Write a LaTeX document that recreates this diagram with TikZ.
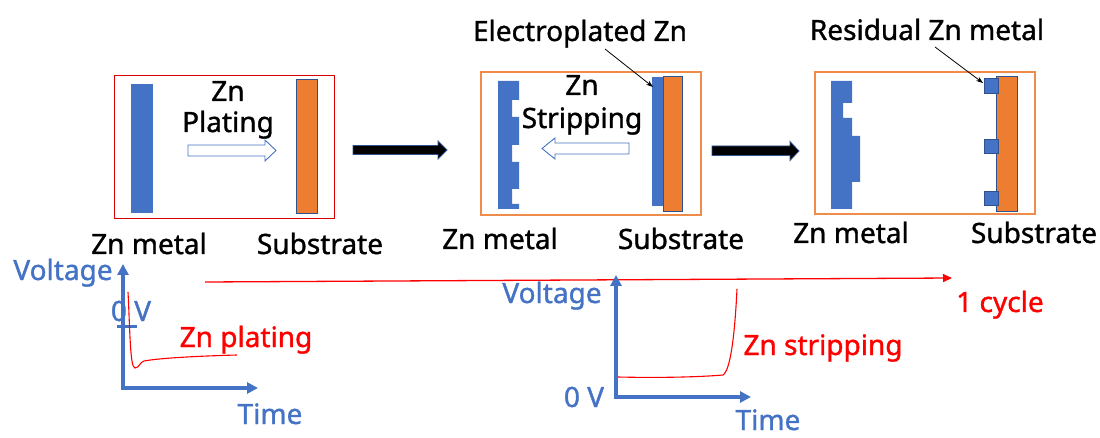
\documentclass[tikz,border=0pt]{standalone}
\usepackage{fontspec}
\setmainfont{Noto Sans}[FakeBold=1.2]
\usetikzlibrary{arrows.meta}
\definecolor{zblue}{HTML}{4472C4}
\definecolor{zorange}{HTML}{ED7D31}
\definecolor{zdark}{HTML}{2F528F}
\definecolor{zbox}{HTML}{F08C4A}
\definecolor{zred}{HTML}{FF0000}
\begin{document}
\begin{tikzpicture}[x=1pt,y=-1pt,
  txt/.style={font=\fontsize{28}{32}\selectfont, inner sep=0pt, anchor=base},
  bluetxt/.style={txt, text=zblue},
  redtxt/.style={txt, text=zred},
  zinc/.style={fill=zblue, draw=zblue, line width=0.6},
  subst/.style={fill=zorange, draw=zdark, line width=0.8},
  hollow/.style={fill=white, draw=zblue, line width=0.9},
  fat/.style={fill=black, draw=zdark, line width=0.8},
  axis/.style={draw=zblue, line width=3.5, {Triangle[length=11,width=11]}-{Triangle[length=11,width=11]}},
  curve/.style={draw=zred, line width=1.1},
  leader/.style={draw=black, line width=0.8, -{Stealth[length=7,width=5]}},
]
\useasboundingbox (0,0) rectangle (1100,438);

% ---------- panel 1 ----------
\draw[draw=zred!85!black, line width=1] (114,76) rectangle (334,219);
\fill[zinc] (131,84) rectangle (152,212);
\draw[subst] (296,79) rectangle (317,213);
\draw[hollow] (188,145) -- (265,145) -- (265,140) -- (276,150.5) -- (265,161) -- (265,156) -- (188,156) -- cycle;
\node[txt] (zn1) at (228,101) {Zn};
\node[txt] (plat) at (228,132) {Plating};
\node[txt] (zm1) at (149,254) {Zn metal};
\node[txt] (sb1) at (320,254) {Substrate};

% ---------- fat arrow 1 ----------
\draw[fat] (353,145.5) -- (438,145.5) -- (438,141) -- (447,150) -- (438,159) -- (438,154.5) -- (353,154.5) -- cycle;

% ---------- panel 2 ----------
\draw[draw=zbox, line width=1.2] (481,72) rectangle (701,215);
\fill[zblue] (498,81) -- (519,81) -- (519,100) -- (512,100) -- (512,117) -- (519,117) -- (519,145) -- (512,145) -- (512,162) -- (519,162) -- (519,189) -- (512,189) -- (512,204) -- (519,204) -- (519,209) -- (498,209) -- cycle;
\draw[zinc] (652,77) rectangle (663,205);
\draw[subst] (663,76) rectangle (682,211);
\draw[hollow] (629,143) -- (555,143) -- (555,138) -- (542,148.5) -- (555,159) -- (555,154) -- (629,154) -- cycle;
\node[txt] (zn2) at (582,95) {Zn};
\node[txt] (strip) at (582,128) {Stripping};
\node[txt] (elz) at (580,41) {Electroplated Zn};
\coordinate (elzs) at (605,49);
\coordinate (plated) at (653,87);
\draw[leader] (elzs) -- (plated);
\node[txt] (zm2) at (500,249) {Zn metal};
\node[txt] (sb2) at (681,249) {Substrate};

% ---------- fat arrow 2 ----------
\draw[fat] (712,146) -- (790,146) -- (790,141.5) -- (799,151) -- (790,160.5) -- (790,155.5) -- (712,155.5) -- cycle;

% ---------- panel 3 ----------
\draw[draw=zbox, line width=1.2] (815,72) rectangle (1035,214);
\fill[zblue] (831,81) -- (852,81) -- (852,103) -- (843,103) -- (843,118) -- (852,118) -- (852,136) -- (860,136) -- (860,182) -- (852,182) -- (852,209) -- (831,209) -- cycle;
\draw[subst] (996,76) rectangle (1017,211);
\draw[zinc, draw=zdark] (984,78) rectangle (998,93);
\draw[zinc, draw=zdark] (984,139) rectangle (998,153);
\draw[zinc, draw=zdark] (984,191) rectangle (998,205);
\node[txt] (res) at (927,40) {Residual Zn metal};
\coordinate (ress) at (935,47);
\coordinate (resid) at (983,83);
\draw[leader] (ress) -- (resid);
\node[txt] (zm3) at (851,243) {Zn metal};
\node[txt] (sb3) at (1034,243) {Substrate};

% ---------- cycle arrow ----------
\coordinate (cyc0) at (205,282);
\coordinate (cyc1) at (952,278);
\draw[draw=zred, line width=1.3, -{Triangle[length=9,width=8]}] (cyc0) -- (cyc1);
\node[redtxt] (cyc) at (1000,312) {1 cycle};

% ---------- graph 1 ----------
\coordinate (g1top) at (123,264);
\coordinate (g1o) at (123,388);
\coordinate (g1right) at (258,388);
\draw[axis] (g1top) -- (g1o) -- (g1right);
\node[bluetxt] (v1) at (63,280) {Voltage};
\node[bluetxt] (zv1) at (131,321) {0 V};
\draw[zblue, line width=3] (117,326) -- (137,326);
\draw[curve] (128,292) .. controls (130,330) and (130,368) .. (135,368)
  .. controls (139,368) and (140,362) .. (144,361)
  .. controls (160,358) and (200,356) .. (237,355);
\node[redtxt] (zp) at (246,347) {Zn plating};
\node[bluetxt] (t1) at (270,424) {Time};

% ---------- graph 2 ----------
\coordinate (g2top) at (616,275);
\coordinate (g2o) at (616,397);
\coordinate (g2right) at (751,397);
\draw[axis] (g2top) -- (g2o) -- (g2right);
\node[bluetxt] (v2) at (552,303) {Voltage};
\node[bluetxt] (zv2) at (584,407) {0 V};
\draw[curve] (618,377) .. controls (660,378) and (700,377) .. (723,375)
  .. controls (731,370) and (735,330) .. (737,289);
\node[redtxt] (zs) at (823,355) {Zn stripping};
\node[bluetxt] (t2) at (768,430) {Time};
\end{tikzpicture}
\end{document}
